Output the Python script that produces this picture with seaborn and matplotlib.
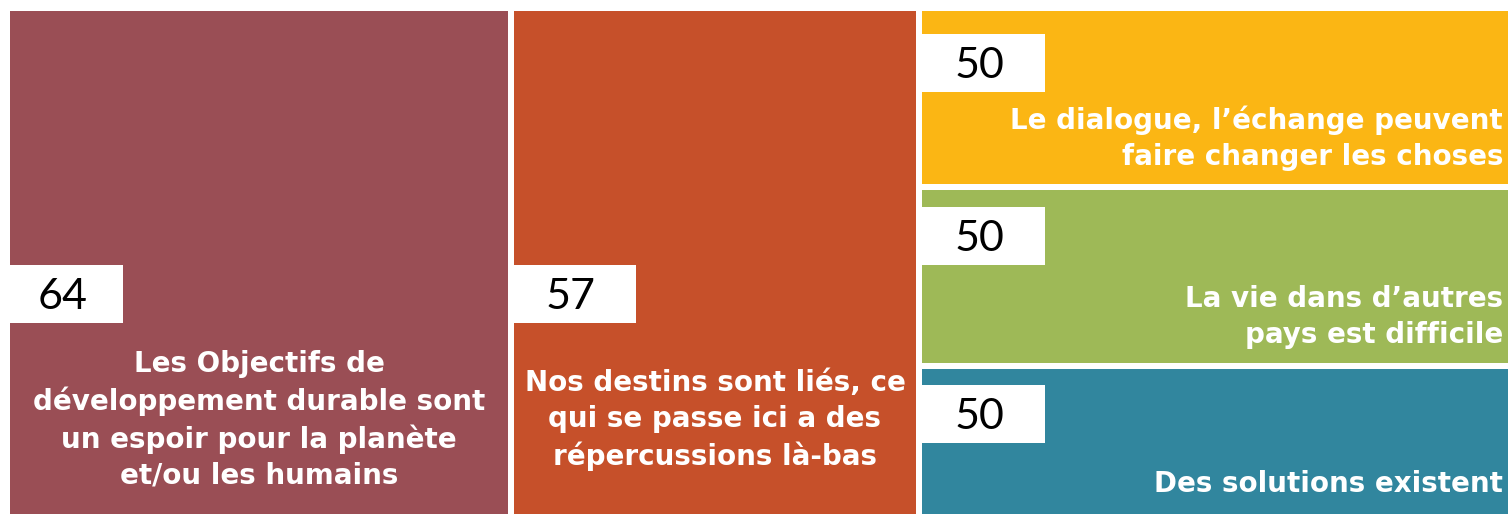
import matplotlib
matplotlib.use("Agg")
import matplotlib.pyplot as plt
import seaborn as sns

# Data
labels = [
    "Les Objectifs de\ndéveloppement durable sont\nun espoir pour la planète\net/ou les humains",
    "Nos destins sont liés, ce\nqui se passe ici a des\nrépercussions là-bas",
    "Le dialogue, l\u2019échange peuvent\nfaire changer les choses",
    "La vie dans d\u2019autres\npays est difficile",
    "Des solutions existent",
]
values = [64, 57, 50, 50, 50]
colors = ["#9A4E55", "#C6502A", "#FBB614", "#9EB957", "#31869E"]

sns.set_theme(style="white")

fig = plt.figure(figsize=(15.08, 5.14), dpi=100)
ax = fig.add_axes([0, 0, 1, 1])
ax.set_xlim(0, 1508)
ax.set_ylim(514, 0)
ax.axis("off")

# layout (pixel canvas): two big columns, then a stacked column
gap = 6
top = 11
col_left = [10, 514, 922]
col_width = [498, 402, 586]
row_h = 173
total_h = 3 * row_h + 2 * gap

rects = []
rects.append((col_left[0], top, col_width[0], total_h))
rects.append((col_left[1], top, col_width[1], total_h))
for i in range(3):
    rects.append((col_left[2], top + i * (row_h + gap), col_width[2], row_h))

box_off = [254, 254, 23, 17, 16]
box_w = [113, 122, 123, 123, 123]
box_h = 58

for i, (x, y, w, h) in enumerate(rects):
    ax.bar(x, h, width=w, bottom=y, align="edge", color=colors[i], linewidth=0)
    by = y + box_off[i]
    ax.bar(x, box_h, width=box_w[i], bottom=by, align="edge", color="white", linewidth=0)
    ax.text(x + box_w[i] / 2 - 4, by + box_h / 2 + 3, str(values[i]), ha="center", va="center",
            fontsize=31, family="Lato", color="black")

txt = dict(color="white", fontsize=20, fontweight="bold", family="DejaVu Sans", linespacing=1.36)
# big columns: centered text
for i in range(2):
    x, y, w, h = rects[i]
    ax.text(x + w / 2, 420, labels[i], ha="center", va="center", multialignment="center", **txt)
# stacked column: right-aligned text
text_y = [138, 317, 484]
for j, i in enumerate(range(2, 5)):
    x, y, w, h = rects[i]
    ax.text(1503, text_y[j], labels[i], ha="right", va="center", multialignment="right", **txt)

plt.savefig("out.png", dpi=100)
